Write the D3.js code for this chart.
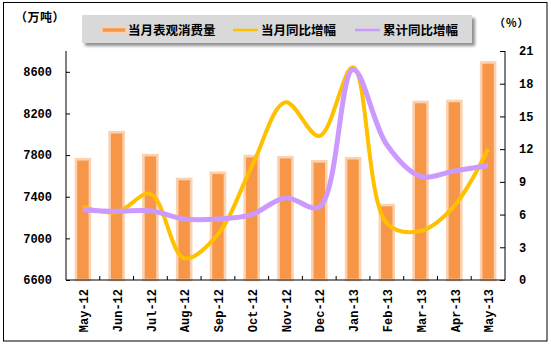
<!DOCTYPE html>
<html><head><meta charset="utf-8">
<script src="https://cdn.jsdelivr.net/npm/d3@7"></script>
<style>
body{margin:0;background:#fff;}
svg{display:block;}
</style></head>
<body>
<script>
const categories = ["May-12","Jun-12","Jul-12","Aug-12","Sep-12","Oct-12","Nov-12","Dec-12","Jan-13","Feb-13","Mar-13","Apr-13","May-13"];
const consumption = [7760,8020,7800,7570,7630,7790,7780,7740,7770,7320,8310,8320,8690];
const monthYoY = [6.7,6.2,7.9,2.0,4.2,10.4,16.3,13.2,19.5,5.2,4.5,6.8,12.0];
const cumYoY = [6.45,6.3,6.35,5.6,5.6,6.0,7.55,6.7,19.3,12.4,9.5,10.0,10.5];
const leftTicks = [6600,7000,7400,7800,8200,8600];
const rightTicks = [0,3,6,9,12,15,18,21];
const seriesNames = ["当月表观消费量","当月同比增幅","累计同比增幅"];
const leftUnit = "（万吨）", rightUnit = "（%）";

const W = 551, H = 348;
const svg = d3.select("body").append("svg").attr("width", W).attr("height", H);
const defs = svg.append("defs");
const f = defs.append("filter").attr("id","sh").attr("x","-10%").attr("y","-30%").attr("width","120%").attr("height","180%");
f.append("feGaussianBlur").attr("stdDeviation",1.5);

svg.append("rect").attr("x",3.5).attr("y",2.5).attr("width",543.5).attr("height",338.5)
  .attr("fill","#fff").attr("stroke","#000").attr("stroke-width",1);

const x0 = 66, x1 = 505, yT = 51, yB = 280;
const x = d3.scaleBand().domain(categories).range([x0, x1]).padding(0);
const yL = d3.scaleLinear().domain([6600, 8800]).range([yB, yT]);
const yR = d3.scaleLinear().domain([0, 21]).range([yB, yT]);

const numFont = "'Liberation Mono','DejaVu Sans Mono',monospace";
const cjk = "'Noto Sans CJK SC','Noto Sans CJK JP',sans-serif";

// bars
const bw = 14;
svg.append("g").selectAll("rect").data(consumption).join("rect")
  .attr("x", (d,i) => x(categories[i]) + x.bandwidth()/2 - bw/2)
  .attr("y", d => yL(d))
  .attr("width", bw)
  .attr("height", d => yB - yL(d))
  .attr("fill", "#F79646")
  .attr("stroke", "#FAD2B2")
  .attr("stroke-width", 2.6);

// lines
const cx = i => x(categories[i]) + x.bandwidth()/2;
const line = d3.line().x((d,i) => cx(i)).y(d => yR(d)).curve(d3.curveCatmullRom.alpha(0.5));
svg.append("path").datum(monthYoY).attr("d", line).attr("fill","none")
  .attr("stroke","#FFC000").attr("stroke-width",4).attr("stroke-linejoin","round");
svg.append("path").datum(cumYoY).attr("d", line).attr("fill","none")
  .attr("stroke","#CC99FF").attr("stroke-width",5).attr("stroke-linejoin","round");

// axes
const axL = d3.axisLeft(yL).tickValues(leftTicks).tickSize(-4).tickPadding(14).tickFormat(d3.format("d"));
const gL = svg.append("g").attr("transform",`translate(${x0},0)`).call(axL);
const axR = d3.axisRight(yR).tickValues(rightTicks).tickSize(-5).tickPadding(14);
const gR = svg.append("g").attr("transform",`translate(${x1},0)`).call(axR);
const axB = d3.axisBottom(x).tickSize(0).tickPadding(0);
const gB = svg.append("g").attr("transform",`translate(0,${yB})`).call(axB);
[gL,gR,gB].forEach(g => {
  g.select(".domain").attr("stroke","#000").attr("stroke-width",1);
  g.selectAll(".tick line").attr("stroke","#000");
  g.selectAll("text").attr("fill","#000").attr("font-family",numFont).attr("font-weight","bold").attr("font-size",12);
});
gL.select(".domain").attr("d",`M0,${yT}V${yB}`);
gR.select(".domain").attr("d",`M0,${yT}V${yB}`);
gB.select(".domain").attr("d",`M${x0},0H${x1}`);
gB.selectAll(".tick text")
  .attr("transform","translate(1,9) rotate(-90)")
  .attr("text-anchor","end").attr("x",0).attr("y",0).attr("dy","0.35em");
// category separator ticks (inside)
svg.append("g").selectAll("line").data(categories.slice(1)).join("line")
  .attr("x1", d => x(d)).attr("x2", d => x(d))
  .attr("y1", yB - 4).attr("y2", yB).attr("stroke","#000");

// unit labels
svg.append("text").attr("x",15).attr("y",22).text(leftUnit)
  .attr("font-family",cjk).attr("font-weight","bold").attr("font-size",12).attr("letter-spacing",0.5);
svg.append("text").attr("x",494).attr("y",27).text(rightUnit)
  .attr("font-family",cjk).attr("font-weight","bold").attr("font-size",11).attr("letter-spacing",1);

// legend
const lg = svg.append("g");
lg.append("rect").attr("x",85).attr("y",18).attr("width",390).attr("height",28).attr("fill","#8f8f8f").attr("filter","url(#sh)");
lg.append("rect").attr("x",82).attr("y",15).attr("width",390).attr("height",28).attr("fill","#D9D9D9");
const legendItems = [
  {sx:102, tx:128, type:"bar", color:"#F79646"},
  {sx:233, tx:261, type:"line", color:"#FFC000"},
  {sx:355, tx:383, type:"line", color:"#CC99FF"}
];
legendItems.forEach((it,i) => {
  if (it.type === "bar") {
    lg.append("rect").attr("x",it.sx).attr("y",27.5).attr("width",24).attr("height",5)
      .attr("fill",it.color).attr("stroke","#FAD2B2").attr("stroke-width",1.5);
  } else {
    lg.append("line").attr("x1",it.sx).attr("x2",it.sx+25).attr("y1",30).attr("y2",30)
      .attr("stroke",it.color).attr("stroke-width",2.5);
  }
  lg.append("text").attr("x",it.tx).attr("y",34.5).text(seriesNames[i])
    .attr("font-family",cjk).attr("font-weight","bold").attr("font-size",12.5).attr("fill","#000");
});
</script>
</body></html>
